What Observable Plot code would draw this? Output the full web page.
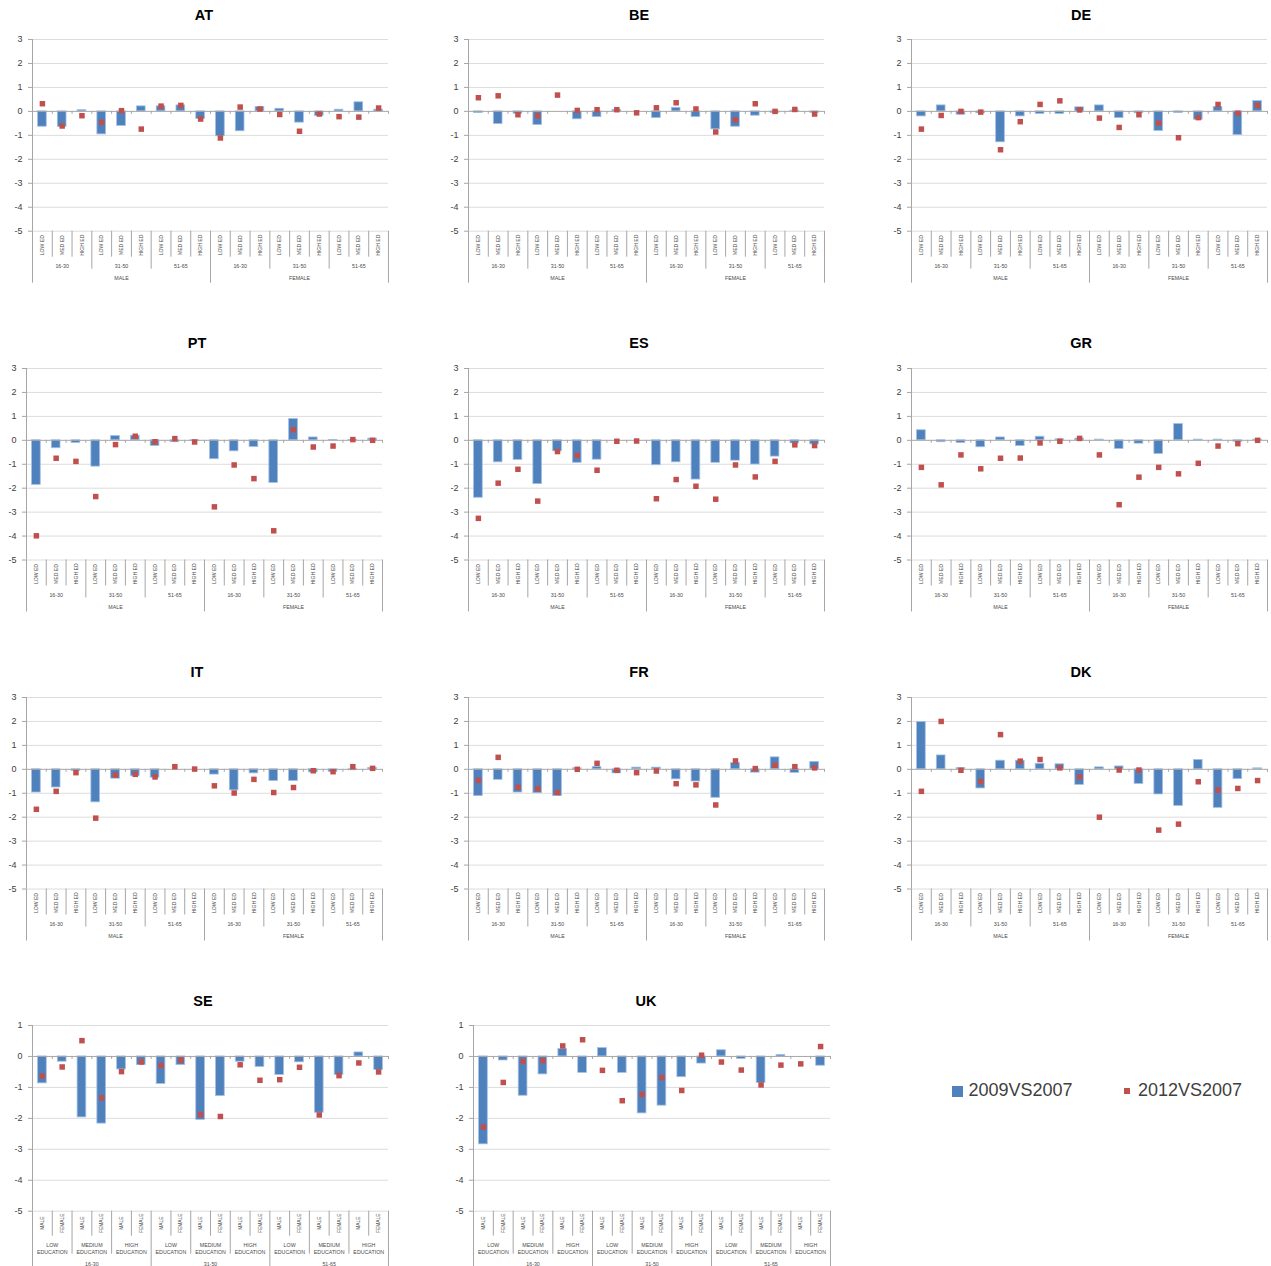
<!DOCTYPE html>
<html><head><meta charset="utf-8">
<script src="https://cdn.jsdelivr.net/npm/d3@7"></script>
<script src="https://cdn.jsdelivr.net/npm/@observablehq/plot@0.6"></script>
<style>
body{margin:0;background:#fff;}
#root{position:relative;width:1271px;height:1266px;overflow:hidden;font-family:"Liberation Sans",Arial,sans-serif;}
.title{position:absolute;font-weight:bold;font-size:14.5px;color:#000;transform:translate(-50%,-50%);white-space:nowrap;}
.leg{position:absolute;font-size:18px;color:#404040;white-space:nowrap;}
.sw{position:absolute;}
</style></head><body><div id="root"></div>
<script>
// ---------- categories / tick labels ----------
const countries = ["AT","BE","DE","PT","ES","GR","IT","FR","DK","SE","UK"];
const sexes = ["MALE","FEMALE"];
const ages = ["16-30","31-50","51-65"];
const eds = ["LOW ED","MED ED","HIGH ED"];
const eduLong = ["LOW\nEDUCATION","MEDIUM\nEDUCATION","HIGH\nEDUCATION"];
const yTicksMain = [3,2,1,0,-1,-2,-3,-4,-5];
const yTicksEdu = [1,0,-1,-2,-3,-4,-5];
const seriesNames = ["2009VS2007","2012VS2007"];

// ---------- values (sex > age > education) ----------
const AT_2009 = [-0.64,-0.65,0.05,-0.96,-0.61,0.21,0.21,0.25,-0.32,-1.04,-0.83,0.18,0.11,-0.47,-0.19,0.07,0.38,0.07];
const AT_2012 = [0.32,-0.61,-0.18,-0.46,0.03,-0.74,0.22,0.25,-0.32,-1.11,0.18,0.10,-0.13,-0.83,-0.11,-0.22,-0.24,0.14];
const BE_2009 = [-0.07,-0.53,-0.10,-0.57,0,-0.33,-0.24,0.06,0,-0.28,0.15,-0.24,-0.75,-0.64,-0.18,-0.07,0.03,-0.06];
const BE_2012 = [0.57,0.65,-0.14,-0.18,0.68,0.04,0.07,0.07,-0.06,0.15,0.36,0.10,-0.86,-0.35,0.32,0.0,0.08,-0.11];
const DE_2009 = [-0.21,0.25,-0.14,-0.08,-1.29,-0.21,-0.11,-0.11,0.17,0.25,-0.28,-0.08,-0.82,-0.07,-0.35,0.18,-0.99,0.43];
const DE_2012 = [-0.74,-0.17,0.0,-0.03,-1.60,-0.43,0.29,0.44,0.06,-0.28,-0.67,-0.14,-0.49,-1.10,-0.26,0.29,-0.08,0.25];
const PT_2009 = [-1.86,-0.33,-0.11,-1.10,0.18,0.19,-0.24,-0.08,-0.03,-0.79,-0.46,-0.28,-1.78,0.89,0.12,0.01,0.01,0.07];
const PT_2012 = [-3.99,-0.75,-0.88,-2.35,-0.18,0.17,-0.06,0.07,-0.07,-2.78,-1.03,-1.60,-3.78,0.44,-0.28,-0.24,0.03,0.0];
const ES_2009 = [-2.40,-0.92,-0.82,-1.83,-0.46,-0.94,-0.81,0,0,-1.04,-0.92,-1.64,-0.94,-0.85,-1.01,-0.68,-0.13,-0.17];
const ES_2012 = [-3.26,-1.79,-1.21,-2.54,-0.47,-0.63,-1.25,-0.04,-0.03,-2.44,-1.64,-1.92,-2.46,-1.03,-1.53,-0.88,-0.19,-0.22];
const GR_2009 = [0.42,-0.08,-0.11,-0.29,0.12,-0.24,0.15,0.04,0.07,0.03,-0.36,-0.14,-0.57,0.68,0.03,0.03,-0.06,0.03];
const GR_2012 = [-1.13,-1.86,-0.61,-1.19,-0.75,-0.74,-0.11,-0.04,0.08,-0.61,-2.69,-1.54,-1.13,-1.40,-0.96,-0.24,-0.14,0.0];
const IT_2009 = [-0.97,-0.76,-0.07,-1.38,-0.39,-0.29,-0.35,0,0,-0.22,-0.88,-0.17,-0.49,-0.49,-0.13,-0.11,-0.04,0.06];
const IT_2012 = [-1.67,-0.92,-0.14,-2.04,-0.24,-0.21,-0.32,0.11,0.01,-0.69,-0.99,-0.42,-0.97,-0.76,-0.06,-0.10,0.11,0.04];
const FR_2009 = [-1.12,-0.44,-0.97,-1.00,-1.12,0.04,0.10,-0.17,0.07,0.07,-0.42,-0.51,-1.19,0.26,-0.14,0.50,-0.15,0.31];
const FR_2012 = [-0.46,0.50,-0.75,-0.81,-0.97,0.0,0.25,-0.04,-0.14,-0.07,-0.60,-0.65,-1.49,0.35,0.03,0.17,0.11,0.06];
const DK_2009 = [1.98,0.58,0.05,-0.80,0.36,0.36,0.23,0.21,-0.65,0.08,0.12,-0.61,-1.05,-1.53,0.39,-1.61,-0.41,0.04];
const DK_2012 = [-0.92,2.0,-0.04,-0.51,1.45,0.34,0.41,0.06,-0.32,-2.0,-0.03,-0.03,-2.54,-2.29,-0.52,-0.87,-0.80,-0.47];
// (age > education > sex)
const SE_2009 = [-0.87,-0.17,-1.97,-2.17,-0.42,-0.28,-0.89,-0.28,-2.05,-1.28,-0.17,-0.34,-0.60,-0.19,-1.82,-0.60,0.13,-0.44];
const SE_2012 = [-0.63,-0.34,0.51,-1.34,-0.49,-0.18,-0.29,-0.12,-1.88,-1.94,-0.27,-0.77,-0.75,-0.35,-1.89,-0.62,-0.21,-0.50];
const UK_2009 = [-2.84,-0.13,-1.27,-0.58,0.24,-0.53,0.27,-0.53,-1.84,-1.59,-0.67,-0.23,0.20,-0.08,-0.86,0.05,0,-0.30];
const UK_2012 = [-2.28,-0.84,-0.16,-0.14,0.34,0.54,-0.45,-1.43,-1.23,-0.68,-1.10,0.04,-0.18,-0.44,-0.92,-0.28,-0.24,0.32];

const values = {AT:[AT_2009,AT_2012],BE:[BE_2009,BE_2012],DE:[DE_2009,DE_2012],PT:[PT_2009,PT_2012],
  ES:[ES_2009,ES_2012],GR:[GR_2009,GR_2012],IT:[IT_2009,IT_2012],FR:[FR_2009,FR_2012],DK:[DK_2009,DK_2012],
  SE:[SE_2009,SE_2012],UK:[UK_2009,UK_2012]};

// ---------- layout (pixels) ----------
const rowsL = [{top:39.3,bottom:231,ty:15},{top:368,bottom:559.5,ty:343},{top:696.5,bottom:888,ty:672},{top:1025,bottom:1210.7,ty:1001}];
const layout = {
  AT:{r:0,axis:32,right:388,tx:204}, BE:{r:0,axis:468,right:824,tx:639}, DE:{r:0,axis:911,right:1267,tx:1081},
  PT:{r:1,axis:26,right:382,tx:197}, ES:{r:1,axis:468,right:824,tx:639}, GR:{r:1,axis:911,right:1267,tx:1081},
  IT:{r:2,axis:26,right:382,tx:197}, FR:{r:2,axis:468,right:824,tx:639}, DK:{r:2,axis:911,right:1267,tx:1081},
  SE:{r:3,axis:32,right:388,tx:203}, UK:{r:3,axis:473,right:830,tx:646}
};

const BLUE = "#4F81BD", RED = "#C0504D", LINE = "#A6A6A6", GRID = "#DCDCDC", TXT = "#4A4A4A";
const root = document.getElementById("root");

function makePanel(name) {
  const [v09, v12] = values[name];
  const L = layout[name], R = rowsL[L.r];
  const edu = name === "SE" || name === "UK";
  const n = v09.length;
  const ymax = edu ? 1 : 3, ymin = -5;
  const ticks = edu ? yTicksEdu : yTicksMain;
  const rows = v09.map((a, i) => ({i, a, b: v12[i]}));
  const mL = 34, mR = 8, mT = 8, mB = 62;

  const leaf = edu ? sexes : eds;
  const leafN = leaf.length;
  const midLabels = edu ? eduLong : ages;
  const outerLabels = edu ? ages : sexes;
  const midSize = leafN, outerSize = leafN * 3;
  const dyLeaf = edu ? 12 : 14, dyMid = edu ? 37 : 35, dyOuter = edu ? 53 : 47;
  const lenLeaf = edu ? 25 : 26, lenMid = edu ? 43 : 38, lenOuter = edu ? 57 : 52;

  const leafData = d3.range(n).map(i => ({x: i + 0.5, t: leaf[i % leafN]}));
  const midData = d3.range(n / midSize).map(g => ({x: g * midSize + midSize / 2, t: midLabels[g % 3]}));
  const outerData = d3.range(n / outerSize).map(g => ({x: g * outerSize + outerSize / 2, t: outerLabels[g]}));
  const bounds = d3.range(n + 1);
  const bOuter = bounds.filter(b => b % outerSize === 0);
  const bMid = bounds.filter(b => b % outerSize !== 0 && b % midSize === 0);
  const bLeaf = bounds.filter(b => b % midSize !== 0);

  const fig = Plot.plot({
    width: (L.right - L.axis) + mL + mR,
    height: (R.bottom - R.top) + mT + mB,
    marginLeft: mL, marginRight: mR, marginTop: mT, marginBottom: mB,
    x: {domain: [0, n], axis: null},
    y: {domain: [ymin, ymax]},
    style: {fontFamily: "'Liberation Sans', Arial, sans-serif", background: "transparent", overflow: "visible"},
    marks: [
      Plot.ruleY(ticks.filter(t => t !== 0), {stroke: GRID, strokeWidth: 1}),
      Plot.axisY(ticks, {tickSize: 4, tickPadding: 6, fontSize: 9, stroke: LINE, fill: "#404040",
        tickFormat: d => String(d), label: null}),
      Plot.rect(rows.filter(d => d.a !== 0), {x1: d => d.i + 0.28, x2: d => d.i + 0.72, y1: 0, y2: "a",
        fill: BLUE, stroke: "#A3C0E4", strokeWidth: 0.8}),
      Plot.ruleY([0], {stroke: LINE, strokeWidth: 1}),
      Plot.ruleX(bounds, {x: d => d, y1: 0, y2: 0, insetBottom: -3, stroke: LINE}),
      Plot.ruleX([0], {y1: ymax, y2: ymin, stroke: LINE}),
      Plot.ruleX(bOuter, {x: d => d, y1: ymin, y2: ymin, insetBottom: -lenOuter, stroke: LINE}),
      Plot.ruleX(bMid, {x: d => d, y1: ymin, y2: ymin, insetBottom: -lenMid, stroke: LINE}),
      Plot.ruleX(bLeaf, {x: d => d, y1: ymin, y2: ymin, insetBottom: -lenLeaf, stroke: LINE}),
      Plot.dot(rows, {x: d => d.i + 0.5, y: "b", symbol: "square", r: 3.1, fill: RED}),
      Plot.text(leafData, {x: "x", y: ymin, text: "t", rotate: -90, dy: dyLeaf, fontSize: edu ? 4.9 : 5.1, fill: TXT}),
      Plot.text(midData, {x: "x", y: ymin, text: "t", dy: dyMid, fontSize: 5.3, lineHeight: 1.3, fill: TXT}),
      Plot.text(outerData, {x: "x", y: ymin, text: "t", dy: dyOuter, fontSize: 5.3, fill: TXT})
    ]
  });
  fig.style.position = "absolute";
  fig.style.left = (L.axis - mL) + "px";
  fig.style.top = (R.top - mT) + "px";
  root.appendChild(fig);

  const t = document.createElement("div");
  t.className = "title";
  t.textContent = name;
  t.style.left = L.tx + "px";
  t.style.top = R.ty + "px";
  root.appendChild(t);
}

countries.forEach(makePanel);

// ---------- legend ----------
function legendItem(x, y, size, color, label) {
  const s = document.createElement("div");
  s.className = "sw";
  s.style.cssText = `left:${x - size / 2}px;top:${y - size / 2}px;width:${size}px;height:${size}px;background:${color};`;
  root.appendChild(s);
  const t = document.createElement("div");
  t.className = "leg";
  t.textContent = label;
  t.style.left = (x + 11) + "px";
  t.style.top = (y - 11) + "px";
  root.appendChild(t);
}
legendItem(957.5, 1091, 11, BLUE, seriesNames[0]);
legendItem(1127, 1091, 5.5, RED, seriesNames[1]);
</script>
</body></html>
